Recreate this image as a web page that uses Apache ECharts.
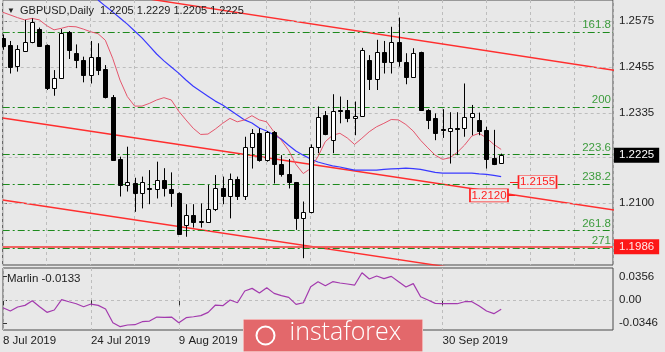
<!DOCTYPE html>
<html>
<head>
<meta charset="utf-8">
<title>GBPUSD Daily</title>
<script src="https://cdn.jsdelivr.net/npm/echarts@6.0.0/dist/echarts.min.js"></script>
<style>
  html, body { margin: 0; padding: 0; background: #e8e8e8; }
  #main { width: 665px; height: 352px; }
</style>
</head>
<body>
<div id="main"></div>
<script>
// daily bars, 8 Jul 2019 .. 10 Oct 2019
var opens  = [1.2530,1.2512,1.2458,1.2497,1.2519,1.2554,1.2512,1.2401,1.2427,1.2547,
              1.2491,1.2473,1.2434,1.2480,1.2450,1.2378,1.2215,1.2147,1.2153,1.2125,
              1.2139,1.2136,1.2160,1.2137,1.2127,1.2043,1.2069,1.2051,1.2051,1.2084,
              1.2140,1.2119,1.2164,1.2119,1.2247,1.2282,1.2212,1.2286,1.2203,1.2175,
              1.2154,1.2060,1.2076,1.2247,1.2330,1.2264,1.2343,1.2343,1.2321,1.2328,
              1.2473,1.2424,1.2495,1.2469,1.2519,1.2469,1.2430,1.2493,1.2343,1.2321,
              1.2293,1.2289,1.2296,1.2297,1.2325,1.2317,1.2291,1.2217,1.2205];
var highs  = [1.2540,1.2523,1.2512,1.2578,1.2582,1.2558,1.2514,1.2447,1.2554,1.2549,
              1.2514,1.2482,1.2523,1.2517,1.2460,1.2382,1.2221,1.2247,1.2166,1.2169,
              1.2186,1.2208,1.2191,1.2180,1.2128,1.2097,1.2097,1.2099,1.2147,1.2173,
              1.2169,1.2177,1.2169,1.2273,1.2293,1.2295,1.2288,1.2288,1.2225,1.2215,
              1.2155,1.2104,1.2253,1.2352,1.2340,1.2384,1.2378,1.2369,1.2365,1.2505,
              1.2486,1.2526,1.2523,1.2560,1.2584,1.2491,1.2504,1.2495,1.2345,1.2334,
              1.2345,1.2337,1.2337,1.2412,1.2356,1.2336,1.2299,1.2291,1.2229];
var lows   = [1.2500,1.2438,1.2443,1.2495,1.2517,1.2508,1.2395,1.2380,1.2425,1.2476,
              1.2452,1.2415,1.2412,1.2434,1.2373,1.2210,1.2117,1.2130,1.2077,1.2086,
              1.2097,1.2112,1.2117,1.2090,1.2017,1.2012,1.2036,1.2036,1.2050,1.2079,
              1.2097,1.2060,1.2108,1.2108,1.2190,1.2208,1.2208,1.2151,1.2169,1.2138,
              1.2030,1.1956,1.2073,1.2230,1.2277,1.2230,1.2308,1.2311,1.2277,1.2325,
              1.2395,1.2395,1.2438,1.2438,1.2456,1.2410,1.2427,1.2342,1.2293,1.2264,
              1.2270,1.2203,1.2225,1.2273,1.2277,1.2277,1.2190,1.2199,1.2205];
var closes = [1.2511,1.2456,1.2501,1.2519,1.2573,1.2511,1.2401,1.2427,1.2545,1.2499,
              1.2473,1.2434,1.2482,1.2447,1.2378,1.2212,1.2147,1.2156,1.2125,1.2156,
              1.2137,1.2160,1.2138,1.2125,1.2018,1.2069,1.2051,1.2052,1.2084,1.2138,
              1.2119,1.2164,1.2119,1.2247,1.2282,1.2212,1.2286,1.2203,1.2175,1.2156,
              1.2060,1.2076,1.2247,1.2325,1.2279,1.2340,1.2342,1.2321,1.2328,1.2499,
              1.2424,1.2495,1.2469,1.2519,1.2471,1.2430,1.2491,1.2343,1.2317,1.2282,
              1.2291,1.2297,1.2295,1.2325,1.2334,1.2288,1.2215,1.2203,1.2225];

// fast moving average (pink) and slow moving average (blue)
var maFast = [1.2598,1.2591,1.2584,1.2578,1.2582,1.2578,1.2563,1.2552,1.2556,1.2561,
              1.2560,1.2554,1.2547,1.2542,1.2525,1.2478,1.2421,1.2378,1.2353,1.2353,
              1.2360,1.2369,1.2375,1.2369,1.2340,1.2317,1.2295,1.2279,1.2280,1.2293,
              1.2308,1.2321,1.2312,1.2317,1.2328,1.2317,1.2312,1.2286,1.2264,1.2238,
              1.2201,1.2177,1.2190,1.2221,1.2260,1.2277,1.2282,1.2270,1.2253,1.2269,
              1.2286,1.2299,1.2308,1.2318,1.2317,1.2305,1.2288,1.2264,1.2244,1.2225,
              1.2214,1.2218,1.2232,1.2251,1.2275,1.2282,1.2270,1.2253,1.2240];
var maSlow = [null,null,null,null,null,null,null,null,null,null,null,null,null,
              1.2630,1.2614,1.2599,1.2583,1.2567,1.2549,1.2531,1.2510,1.2489,1.2471,
              1.2455,1.2439,1.2421,1.2405,1.2392,1.2379,1.2366,1.2356,1.2343,1.2330,
              1.2317,1.2309,1.2296,1.2288,1.2278,1.2267,1.2251,1.2236,1.2225,1.2215,
              1.2207,1.2202,1.2197,1.2194,1.2190,1.2186,1.2186,1.2186,1.2186,1.2188,
              1.2189,1.2190,1.2191,1.2190,1.2188,1.2184,1.2180,1.2178,1.2178,1.2178,
              1.2178,1.2178,1.2176,1.2175,1.2172,1.2169];
// Marlin oscillator
var marlin = [-0.0111,-0.0161,-0.0101,-0.0076,-0.0006,-0.0096,-0.0181,-0.0146,0.0010,-0.0021,
              -0.0051,-0.0096,-0.0056,-0.0076,-0.0131,-0.0337,-0.0397,-0.0372,-0.0367,-0.0322,
              -0.0312,-0.0252,-0.0257,-0.0252,-0.0337,-0.0262,-0.0247,-0.0231,-0.0181,-0.0071,
              -0.0081,0.0005,-0.0036,0.0140,0.0180,0.0110,0.0190,0.0105,0.0070,0.0045,
              -0.0061,-0.0036,0.0205,0.0281,0.0220,0.0281,0.0261,0.0246,0.0230,0.0416,
              0.0321,0.0366,0.0326,0.0361,0.0281,0.0200,0.0251,0.0055,0.0005,-0.0046,
              -0.0051,-0.0051,-0.0051,-0.0021,-0.0021,-0.0086,-0.0161,-0.0201,-0.0133];

// date labels visible below the oscillator (others sit under the watermark)
var dateTickBars = [0, 12, 24, 60];
var dateTickLabels = ['8 Jul 2019', '24 Jul 2019', '9 Aug 2019', '30 Sep 2019'];
var priceTicks = [1.2575, 1.2455, 1.2335, 1.2100];
var priceGrid = [1.2575, 1.2455, 1.2335, 1.2219, 1.2100];
var marlinTicks = [0.0356, 0, -0.0346];

var fibNames = ['161.8', '200', '223.6', '238.2', '261.8', '271'];
var fibLevels = [1.2547, 1.2350, 1.2227, 1.2150, 1.2028, 1.1982];

// trend lines: [bar, price] end points
var upperLine = [[15, 1.2647], [84, 1.2445]];
var midLine = [[0, 1.2322], [84, 1.2080]];
var lowLine = [[0, 1.2108], [84, 1.1866]];
var supportLevel = 1.1986;
var targets = [{ price: 1.2155, bar: 72.96, from: 69.2, to: 70.4 },
               { price: 1.2120, bar: 66.34, from: 68.9, to: 69.9 }];

var FONT = '"Liberation Sans", Arial, sans-serif';
var last = opens.length - 1;

var chart = echarts.init(document.getElementById('main'), null, { renderer: 'canvas' });

var candleData = opens.map(function (o, i) { return [i, o, closes[i], lows[i], highs[i]]; });
function withIdx(arr) { return arr.map(function (v, i) { return [i, v]; }); }

function renderCandle(params, api) {
  var i = api.value(0);
  var o = api.coord([i, api.value(1)]);
  var c = api.coord([i, api.value(2)]);
  var l = api.coord([i, api.value(3)]);
  var h = api.coord([i, api.value(4)]);
  var x = Math.round(o[0]) + 0.5;
  var top = Math.round(Math.min(o[1], c[1])) + 0.5;
  var bot = Math.round(Math.max(o[1], c[1])) + 0.5;
  var up = api.value(2) >= api.value(1);
  return {
    type: 'group',
    children: [
      { type: 'line', shape: { x1: x, y1: h[1], x2: x, y2: l[1] }, style: { stroke: '#000', lineWidth: 1 } },
      { type: 'rect', shape: { x: x - 2, y: top, width: 4, height: Math.max(bot - top, 1) },
        style: { fill: up ? '#fff' : '#000', stroke: '#000', lineWidth: 1 } }
    ]
  };
}

var gridLines = priceGrid.map(function (p) {
  return { yAxis: p, lineStyle: { color: '#bdbdbd', type: [3, 3], width: 1 }, label: { show: false } };
});
var fibLines = fibLevels.map(function (p, k) {
  return { yAxis: p, label: { formatter: fibNames[k] } };
});
var boxLabel = { show: true, position: 'end', distance: 1, color: '#fff', padding: [2, 5, 1, 5], fontSize: 11.5, fontFamily: FONT };

chart.setOption({
  animation: false,
  backgroundColor: '#e8e8e8',
  textStyle: { fontFamily: FONT },
  grid: [
    { left: 2.7, top: 0, width: 610.3, height: 265, show: true, borderColor: '#4a4a4a', borderWidth: 1, backgroundColor: 'transparent' },
    { left: 2.7, top: 268, width: 610.3, height: 62, show: true, borderColor: '#4a4a4a', borderWidth: 1, backgroundColor: 'transparent' }
  ],
  xAxis: [
    { type: 'value', gridIndex: 0, min: 0, max: 83.26, interval: 6,
      axisLine: { show: false }, axisTick: { show: false }, axisLabel: { show: false },
      splitLine: { show: true, lineStyle: { color: '#bdbdbd', type: [3, 3] } } },
    { type: 'value', gridIndex: 1, min: 0, max: 83.26, interval: 6,
      axisLine: { show: false },
      axisTick: { show: true, customValues: dateTickBars, length: 5, lineStyle: { color: '#333' } },
      axisLabel: { show: true, customValues: dateTickBars, align: 'left', margin: 5,
        color: '#222', fontSize: 11.5, fontFamily: FONT,
        formatter: function (v) { var k = dateTickBars.indexOf(Math.round(v)); return k >= 0 ? dateTickLabels[k] : ''; } },
      splitLine: { show: true, lineStyle: { color: '#bdbdbd', type: [3, 3] } } }
  ],
  yAxis: [
    { type: 'value', gridIndex: 0, position: 'right', min: 1.19383, max: 1.26299,
      axisLine: { show: false }, splitLine: { show: false },
      axisTick: { show: true, customValues: priceTicks, length: 4, lineStyle: { color: '#333' } },
      axisLabel: { show: true, customValues: priceTicks, margin: 6, color: '#222', fontSize: 11.5, fontFamily: FONT,
        formatter: function (v) { return v.toFixed(4); } } },
    { type: 'value', gridIndex: 1, position: 'right', min: -0.0447, max: 0.0487,
      axisLine: { show: false }, splitLine: { show: false },
      axisTick: { show: true, customValues: marlinTicks, length: 4, lineStyle: { color: '#333' } },
      axisLabel: { show: true, customValues: marlinTicks, margin: 6, color: '#222', fontSize: 11.5, fontFamily: FONT,
        formatter: function (v) { return v === 0 ? '0.00' : v.toFixed(4); } } }
  ],
  series: [
    { // price grid
      type: 'line', xAxisIndex: 0, yAxisIndex: 0, data: [], silent: true, z: 1,
      markLine: { symbol: ['none', 'none'], silent: true, animation: false, precision: 6, data: gridLines }
    },
    { // fibonacci expansion levels
      type: 'line', xAxisIndex: 0, yAxisIndex: 0, data: [], silent: true, z: 2,
      markLine: {
        symbol: ['none', 'none'], silent: true, animation: false, precision: 6,
        lineStyle: { color: '#1d8a1d', type: [7, 3, 2, 3], width: 1 },
        label: { show: true, position: 'insideEndTop', distance: [2, 1], color: '#3d9c3d', fontSize: 11.5, fontFamily: FONT },
        data: fibLines
      }
    },
    { // support line, last price box, target labels
      type: 'line', xAxisIndex: 0, yAxisIndex: 0, data: [], silent: true, z: 3,
      markLine: {
        symbol: ['none', 'none'], silent: true, animation: false, precision: 6,
        data: [
          { yAxis: supportLevel, lineStyle: { color: '#f25555', width: 2, type: 'solid', opacity: 0.9 },
            label: Object.assign({}, boxLabel, { formatter: supportLevel.toFixed(4), backgroundColor: '#ff0000' }) },
          { yAxis: closes[last], lineStyle: { color: 'rgba(0,0,0,0)', width: 1 },
            label: Object.assign({}, boxLabel, { formatter: closes[last].toFixed(4), backgroundColor: '#000000' }) }
        ].concat(targets.map(function (t) {
          return [{ coord: [t.from, t.price], lineStyle: { color: '#ff2020', width: 1, type: 'solid' }, label: { show: false } },
                  { coord: [t.to, t.price] }];
        }))
      },
      markPoint: {
        symbol: 'rect', silent: true, animation: false,
        data: targets.map(function (t) {
          return { coord: [t.bar, t.price], symbolSize: [38, 13],
            itemStyle: { color: '#ececec', borderColor: '#ff2020', borderWidth: 1 },
            label: { show: true, position: 'inside', formatter: t.price.toFixed(4), color: '#ff2020', fontSize: 11.5, fontFamily: FONT } };
        })
      }
    },
    { name: 'upper', type: 'line', xAxisIndex: 0, yAxisIndex: 0, data: upperLine, symbol: 'none', silent: true, z: 4,
      lineStyle: { color: '#ff2e2e', width: 1.4 } },
    { name: 'mid', type: 'line', xAxisIndex: 0, yAxisIndex: 0, data: midLine, symbol: 'none', silent: true, z: 4,
      lineStyle: { color: '#ff2e2e', width: 1.4 } },
    { name: 'low', type: 'line', xAxisIndex: 0, yAxisIndex: 0, data: lowLine, symbol: 'none', silent: true, z: 4,
      lineStyle: { color: '#ff2e2e', width: 1.4 } },
    { name: 'maSlow', type: 'line', xAxisIndex: 0, yAxisIndex: 0, data: withIdx(maSlow), symbol: 'none', silent: true, z: 5,
      connectNulls: false, lineStyle: { color: '#3a3aff', width: 1.2 } },
    { name: 'maFast', type: 'line', xAxisIndex: 0, yAxisIndex: 0, data: withIdx(maFast), symbol: 'none', silent: true, z: 5,
      lineStyle: { color: '#e4566c', width: 1 } },
    { name: 'GBPUSD', type: 'custom', xAxisIndex: 0, yAxisIndex: 0, data: candleData, renderItem: renderCandle,
      encode: { x: 0, y: [1, 2, 3, 4] }, clip: true, silent: true, z: 6 },
    { name: 'zero', type: 'line', xAxisIndex: 1, yAxisIndex: 1, data: [], silent: true, z: 1,
      markLine: { symbol: ['none', 'none'], silent: true, animation: false, precision: 6, label: { show: false },
        lineStyle: { color: '#bdbdbd', type: [3, 3], width: 1 }, data: [{ yAxis: 0 }] } },
    { name: 'Marlin', type: 'line', xAxisIndex: 1, yAxisIndex: 1, data: withIdx(marlin), symbol: 'none', silent: true, z: 5,
      lineStyle: { color: '#a33aae', width: 1.2 } }
  ],
  graphic: [
    { type: 'text', left: 7, top: 7, z: 100, style: { text: '\u25BC', fill: '#222', font: '8px ' + FONT } },
    { type: 'text', left: 20, top: 5, z: 100, style: {
        text: 'GBPUSD,Daily  ' + [opens[last], highs[last], lows[last], closes[last]].map(function (v) { return v.toFixed(4); }).join(' '),
        fill: '#222', font: '11px ' + FONT } },
    { type: 'text', left: 7, top: 273, z: 100, style: { text: 'Marlin ' + marlin[last].toFixed(4), fill: '#222', font: '11.5px ' + FONT } },
    { type: 'group', left: 243, top: 319, z: 200, children: [
        { type: 'rect', shape: { x: 0, y: 0, width: 179, height: 32, r: 1 }, style: { fill: '#e3686b', stroke: '#f2b3b3', lineWidth: 1 } },
        { type: 'circle', shape: { cx: 22, cy: 16, r: 9 }, style: { fill: 'none', stroke: '#fff', lineWidth: 2 } },
        { type: 'text', x: 46, y: 1, style: { text: 'instaforex', fill: '#fff', font: '300 25px "Open Sans", sans-serif' } }
    ] }
  ]
});
</script>
</body>
</html>
